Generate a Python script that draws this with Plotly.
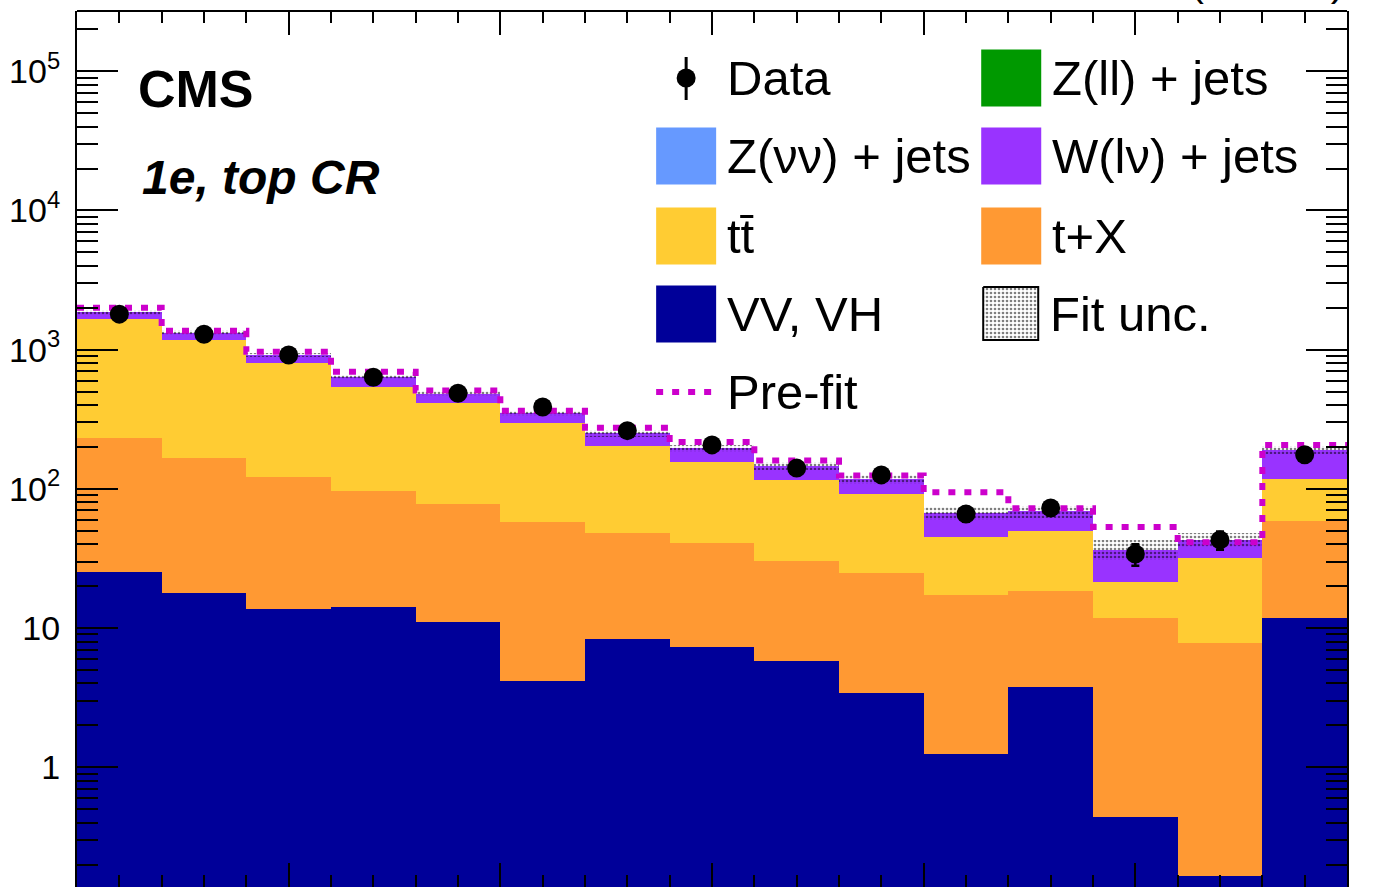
import numpy as np
import plotly.graph_objects as go

# ---------------- data ----------------
bins = list(range(15))  # 15 recoil bins (equal width in the plot)
vv_vh = [25.3, 17.8, 13.8, 14.2, 11.1, 4.17, 8.35, 7.35, 5.80, 3.42, 1.25, 3.78, 0.442, 0.166, 11.8]
t_x = [206.7, 149.2, 108.2, 82.4, 66.8, 53.6, 39.7, 33.6, 24.5, 21.5, 15.95, 14.7, 11.46, 7.63, 47.0]
ttbar = [1428, 1008, 685, 445, 334, 238, 155, 116, 85.7, 67.1, 27.7, 31.4, 9.7, 24.3, 59.2]
w_lnu = [197, 150, 114, 95, 71, 53, 48, 39, 30, 25, 22, 19, 15, 11, 72]
z_nunu = [0.0] * 15   # not visible in the picture
z_ll = [0.0] * 15     # not visible in the picture
data = [1800, 1290, 916, 634, 486, 387, 262, 207, 141, 126, 66, 73, 34, 43, 176]
data_err = [42, 36, 30, 25, 22, 20, 16, 14, 12, 11, 8, 8.5, 6, 6.5, 13]
prefit = [2004, 1370, 965, 695, 510, 364, 275, 217, 160, 125, 94.5, 72.6, 53.2, 41.4, 207]
fit_unc = [70, 49, 31, 24, 19, 15, 13.5, 12, 9, 8, 7, 7, 6, 5, 13]

y_tickvals = [1, 10, 100, 1000, 1e4, 1e5]
y_ticktext = ["1", "10", "10<sup>2</sup>", "10<sup>3</sup>", "10<sup>4</sup>", "10<sup>5</sup>"]

# ---------------- style ----------------
FONT = "Liberation Sans, Arial, Helvetica, sans-serif"
C_VV, C_TX, C_TT, C_W, C_ZNN, C_ZLL = "#000099", "#FF9933", "#FFCC33", "#9933FF", "#6699FF", "#009900"
C_PRE = "#CC00CC"
W, H = 1379, 887
L, R, T, B = 77, 1346.7, 11, 887

fig = go.Figure()
xc = np.array(bins) + 0.5
base = np.zeros(len(bins))
layers = [(vv_vh, C_VV), (t_x, C_TX), (ttbar, C_TT), (w_lnu, C_W), (z_nunu, C_ZNN), (z_ll, C_ZLL)]
for vals, col in layers:
    v = np.array(vals, dtype=float)
    if not v.any():
        continue
    fig.add_trace(go.Bar(x=xc, y=v, base=(base.copy() if base.any() else None), width=1,
                         marker=dict(color=col, line=dict(width=0)), showlegend=False,
                         hoverinfo="skip"))
    base = base + v
total = base
unc = np.array(fit_unc, dtype=float)
fig.add_trace(go.Bar(x=xc, y=2 * unc, base=total - unc, width=1,
                     marker=dict(color="black", line=dict(width=0),
                                 pattern=dict(shape=".", fgcolor="black", bgcolor="rgba(0,0,0,0)",
                                              size=4, solidity=0.35)),
                     showlegend=False, hoverinfo="skip"))

# pre-fit step line
fig.add_trace(go.Scatter(x=bins + [bins[-1] + 1], y=prefit + [prefit[-1]], mode="lines",
                         line=dict(shape="hv", color=C_PRE, width=6, dash="7px,9px"),
                         showlegend=False, hoverinfo="skip"))
# data
fig.add_trace(go.Scatter(x=xc, y=data, mode="markers",
                         marker=dict(size=19, color="black"),
                         error_y=dict(type="data", array=data_err, color="black", thickness=2.5, width=4),
                         showlegend=False))

# ---------------- legend drawn in pixel space (overlay axes) ----------------
rows = [78, 156, 236, 314, 392]
c1x, c2x = 656, 981
box_w, box_h = 60, 57
legend_items = [
    (c2x, rows[0], C_ZLL, "Z(ll) + jets"),
    (c1x, rows[1], C_ZNN, "Z(νν) + jets"),
    (c2x, rows[1], C_W, "W(lν) + jets"),
    (c1x, rows[2], C_TT, "tt̄"),
    (c2x, rows[2], C_TX, "t+X"),
    (c1x, rows[3], C_VV, "VV, VH"),
]
shapes = []
annotations = []
LEG_FS = 49
for x0, yc, col, txt in legend_items:
    shapes.append(dict(type="rect", xref="x2", yref="y2", x0=x0, x1=x0 + box_w,
                       y0=yc - box_h / 2, y1=yc + box_h / 2, fillcolor=col, line=dict(width=0)))
    annotations.append(dict(xref="x2", yref="y2", x=x0 + 69, y=yc, text=txt, showarrow=False,
                            xanchor="left", yanchor="middle", font=dict(size=LEG_FS, color="black", family=FONT)))
# fit unc legend box
fx0, fx1, fy0, fy1 = c2x + 2, c2x + 57, rows[3] - 27, rows[3] + 26
fig.add_trace(go.Scatter(x=[fx0, fx1, fx1, fx0, fx0], y=[fy0, fy0, fy1, fy1, fy0], xaxis="x2", yaxis="y2",
                         mode="lines", fill="toself", fillcolor="white",
                         fillpattern=dict(shape=".", fgcolor="black", bgcolor="white", size=4, solidity=0.35),
                         line=dict(color="black", width=2), showlegend=False, hoverinfo="skip"))
annotations.append(dict(xref="x2", yref="y2", x=c2x + 67, y=rows[3], text="Fit unc.", showarrow=False,
                        xanchor="left", yanchor="middle", font=dict(size=LEG_FS, color="black", family=FONT)))
# data legend
fig.add_trace(go.Scatter(x=[686, 686], y=[57, 100], xaxis="x2", yaxis="y2", mode="lines",
                         line=dict(color="black", width=3), showlegend=False, hoverinfo="skip"))
fig.add_trace(go.Scatter(x=[686], y=[78], xaxis="x2", yaxis="y2", mode="markers",
                         marker=dict(size=19, color="black"), showlegend=False, hoverinfo="skip"))
annotations.append(dict(xref="x2", yref="y2", x=725, y=rows[0], text="Data", showarrow=False,
                        xanchor="left", yanchor="middle", font=dict(size=LEG_FS, color="black", family=FONT)))
# pre-fit legend
fig.add_trace(go.Scatter(x=[656, 716], y=[rows[4], rows[4]], xaxis="x2", yaxis="y2", mode="lines",
                         line=dict(color=C_PRE, width=6, dash="7px,9px"), showlegend=False, hoverinfo="skip"))
annotations.append(dict(xref="x2", yref="y2", x=725, y=rows[4], text="Pre-fit", showarrow=False,
                        xanchor="left", yanchor="middle", font=dict(size=LEG_FS, color="black", family=FONT)))

# CMS labels
annotations.append(dict(xref="x2", yref="y2", x=136, y=89, text="<b>CMS</b>", showarrow=False,
                        xanchor="left", yanchor="middle", font=dict(size=52, color="black", family=FONT)))
annotations.append(dict(xref="x2", yref="y2", x=140, y=177, text="<b><i>1e, top CR</i></b>", showarrow=False,
                        xanchor="left", yanchor="middle", font=dict(size=48, color="black", family=FONT)))
# luminosity header (mostly above the visible page, as in the reference)
header_y_px = -21
annotations.append(dict(xref="paper", yref="paper", x=1.0, y=(B - header_y_px) / (B - T),
                        text="35.9 fb<sup>-1</sup> (13 TeV)", showarrow=False,
                        xanchor="right", yanchor="middle", font=dict(size=41, color="black", family=FONT)))

# top frame line
shapes.append(dict(type="line", xref="paper", yref="paper", x0=0, x1=1, y0=1, y1=1,
                   line=dict(color="black", width=2)))

ylog_top = 5.433
ylog_bot = ylog_top - (B - T) / 139.2

fig.update_layout(
    width=W, height=H,
    margin=dict(l=L, r=W - R, t=T, b=H - B, pad=0),
    paper_bgcolor="white", plot_bgcolor="white",
    barmode="overlay", bargap=0,
    showlegend=False,
    shapes=shapes, annotations=annotations,
    font=dict(family=FONT, color="black"),
    xaxis=dict(range=[0, 15], showgrid=False, zeroline=False, showline=False,
               ticks="inside", ticklen=24, tickwidth=2, tickcolor="black",
               tick0=0, dtick=2.5, showticklabels=False, mirror="allticks",
               minor=dict(ticks="inside", ticklen=12, tickwidth=2, tickcolor="black", dtick=0.5)),
    yaxis=dict(type="log", range=[ylog_bot, ylog_top], showgrid=False, zeroline=False,
               showline=True, linewidth=2, linecolor="black", mirror="allticks",
               ticks="inside", ticklen=41, tickwidth=2, tickcolor="black",
               tickvals=y_tickvals, ticktext=y_ticktext, ticklabelstandoff=8,
               tickfont=dict(size=34, family=FONT, color="black"),
               minor=dict(ticks="inside", ticklen=21, tickwidth=2, tickcolor="black", dtick="D1")),
    xaxis2=dict(range=[L, R], overlaying="x", visible=False, anchor="y2"),
    yaxis2=dict(range=[B, T], overlaying="y", visible=False, anchor="x2"),
)

# remove the browser's default 8px body margin so the figure sits at the page origin
fig.write_html("out.html", config={"displayModeBar": False},
               post_script="document.body.style.margin='0';")
